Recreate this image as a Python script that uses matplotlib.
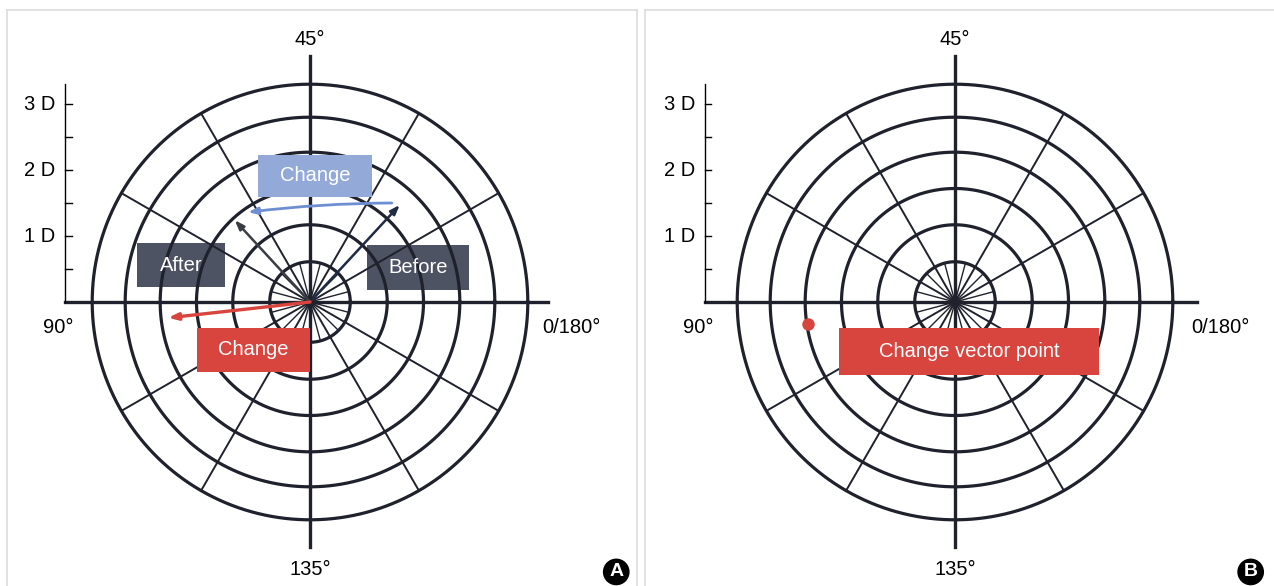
import numpy as np
import matplotlib
matplotlib.use('Agg')
import matplotlib.pyplot as plt
from matplotlib.patches import Rectangle

plt.rcParams['font.family'] = ['Liberation Sans Narrow', 'Liberation Sans', 'DejaVu Sans']

# grid of the astigmatism double-angle plot (units: dioptres)
ring_radii = [0.61, 1.17, 1.72, 2.27, 2.80, 3.30]
spoke_angles = [30, 60, 120, 150, 210, 240, 300, 330]
inner_spoke_angles = [15, 45, 75, 105, 135, 165, 195, 225, 255, 285, 315, 345]
major_ticks = [1, 2, 3]
minor_ticks = [0.5, 1.5, 2.5]
tick_labels = ['1 D', '2 D', '3 D']

# vectors (x, y in D)
before_vec = (1.36, 1.47)
after_vec = (-1.14, 1.24)
change_vec = (-2.15, -0.24)
arc_start = (1.24, 1.50)
arc_end = (-0.94, 1.36)
# change vector point in panel B
change_point = (-2.23, -0.33)

GRID = '#1f222c'
RED = '#d8453f'
BLUE_BOX = '#93aad9'
BLUE_LINE = '#6d8fd2'
DARK_BOX = '#4e5364'
BORDER = '#dddddd'
S = 66.0  # px per dioptre

fig = plt.figure(figsize=(12.74, 5.86), dpi=100)
W, H = 1274, 586


def make_axes(left_px, right_px, cx_px, cy_px=302, top_px=10):
    ax = fig.add_axes([left_px / W, 0, (right_px - left_px) / W, (H - top_px) / H])
    ax.set_xlim((left_px - cx_px) / S, (right_px - cx_px) / S)
    ax.set_ylim((cy_px - H) / S, (cy_px - top_px) / S)
    ax.set_xticks([])
    ax.set_yticks([])
    for side in ['top', 'left', 'right']:
        ax.spines[side].set_color(BORDER)
        ax.spines[side].set_linewidth(1.2)
    ax.spines['bottom'].set_visible(False)
    return ax


def draw_grid(ax, xleft, xright, ytop, ybottom, yaxis_x):
    t = np.linspace(0, 2 * np.pi, 400)
    for r in ring_radii:
        ax.plot(r * np.cos(t), r * np.sin(t), color=GRID, lw=2.3, zorder=3)
    rmax = ring_radii[-1]
    for a in spoke_angles:
        rad = np.deg2rad(a)
        ax.plot([0, rmax * np.cos(rad)], [0, rmax * np.sin(rad)], color=GRID, lw=1.4, zorder=3)
    for a in inner_spoke_angles:
        rad = np.deg2rad(a)
        r0 = ring_radii[0]
        ax.plot([0, r0 * np.cos(rad)], [0, r0 * np.sin(rad)], color=GRID, lw=1.0, zorder=3)
    ax.plot([xleft, xright], [0, 0], color=GRID, lw=2.4, zorder=3)
    ax.plot([0, 0], [ybottom, ytop], color=GRID, lw=2.4, zorder=3)
    # dioptre scale on the left
    ax.plot([yaxis_x, yaxis_x], [0, 3.3], color='black', lw=1.0, zorder=3)
    for v in major_ticks + minor_ticks:
        ax.plot([yaxis_x, yaxis_x + 0.1], [v, v], color='black', lw=1.0, zorder=3)
    for v, lab in zip(major_ticks, tick_labels):
        ax.text(yaxis_x - 0.15, v, lab, ha='right', va='center', fontsize=14.5)
    ax.text(0, 3.97, '45°', ha='center', va='center', fontsize=14.5)
    ax.text(0, -4.06, '135°', ha='center', va='center', fontsize=14.5)
    ax.text(yaxis_x - 0.1, -0.39, '90°', ha='center', va='center', fontsize=14.5)
    ax.text(xright + 0.35, -0.39, '0/180°', ha='center', va='center', fontsize=14.5)


def box(ax, x0, x1, y0, y1, color, text, z):
    ax.add_patch(Rectangle((x0, y0), x1 - x0, y1 - y0, fc=color, ec='none', zorder=z))
    ax.text((x0 + x1) / 2, (y0 + y1) / 2, text, ha='center', va='center',
            color='white', fontsize=14.5, zorder=7)


def panel_letter(ax, x, y, letter):
    ax.text(x, y, letter, ha='center', va='center', color='white', fontsize=14,
            fontweight='bold', family=['Liberation Sans', 'DejaVu Sans'],
            bbox=dict(boxstyle='circle,pad=0.25', fc='black', ec='none'), zorder=10)


# ---------------- panel A ----------------
axA = make_axes(7, 637, 310)
draw_grid(axA, -3.71, 3.61, 3.73, -3.71, -3.71)

box(axA, -2.62, -1.29, 0.23, 0.89, DARK_BOX, 'After', 2)
box(axA, 0.86, 2.41, 0.18, 0.86, DARK_BOX, 'Before', 2)
box(axA, -0.79, 0.94, 1.59, 2.23, BLUE_BOX, 'Change', 4)
box(axA, -1.71, 0.0, -1.06, -0.39, RED, 'Change', 4)

arrow_kw = dict(arrowstyle='-|>,head_length=0.55,head_width=0.2', shrinkA=0, shrinkB=0)
axA.annotate('', xy=before_vec, xytext=(0, 0),
             arrowprops=dict(color='#1f2b45', lw=1.8, **arrow_kw), zorder=6)
axA.annotate('', xy=after_vec, xytext=(0, 0),
             arrowprops=dict(color='#3a3d44', lw=1.8, **arrow_kw), zorder=6)
axA.annotate('', xy=arc_end, xytext=arc_start,
             arrowprops=dict(color=BLUE_LINE, lw=2.0, connectionstyle='arc3,rad=0.03', **arrow_kw),
             zorder=6)
axA.annotate('', xy=change_vec, xytext=(0, 0),
             arrowprops=dict(color=RED, lw=2.4, **arrow_kw), zorder=6)
panel_letter(axA, 4.64, -4.09, 'A')

# ---------------- panel B ----------------
axB = make_axes(645, 1274, 955)
axB.spines['right'].set_visible(False)
draw_grid(axB, -3.79, 3.67, 3.73, -3.71, -3.79)
box(axB, -1.76, 2.18, -1.11, -0.39, RED, 'Change vector point', 4)
axB.plot(*change_point, 'o', color=RED, ms=9, mec='none', zorder=6)
panel_letter(axB, 4.48, -4.09, 'B')

plt.savefig('out.png', dpi=100)
